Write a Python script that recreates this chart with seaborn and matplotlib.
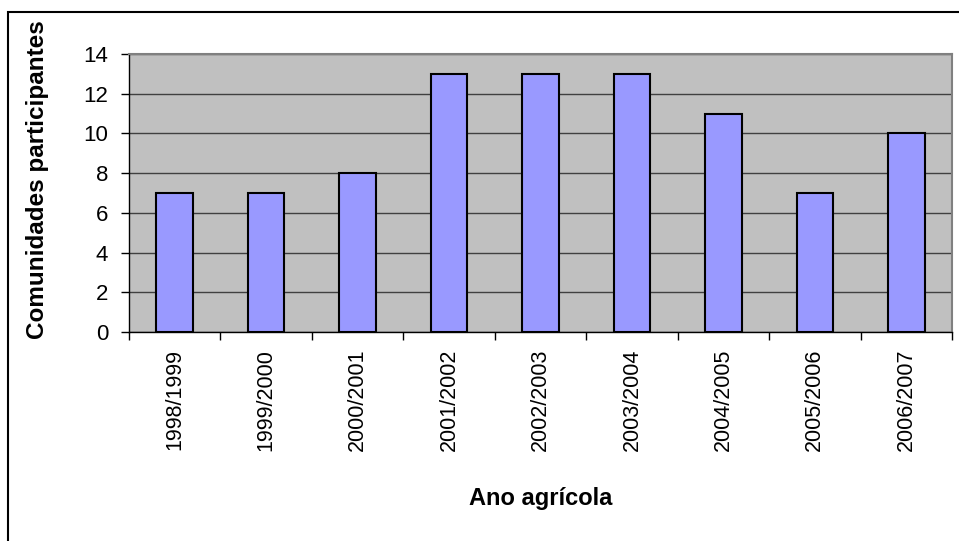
import matplotlib
matplotlib.use("Agg")
import matplotlib.pyplot as plt
import seaborn as sns
import pandas as pd
from matplotlib.patches import Rectangle

# dados
anos = ["1998/1999", "1999/2000", "2000/2001", "2001/2002", "2002/2003",
        "2003/2004", "2004/2005", "2005/2006", "2006/2007"]
comunidades = [7, 7, 8, 13, 13, 13, 11, 7, 10]

df = pd.DataFrame({"ano": anos, "n": comunidades})

sns.set_style("white")
plt.rcParams['font.family'] = ['Liberation Sans', 'DejaVu Sans']
plt.rcParams['text.color'] = 'black'
plt.rcParams['axes.labelcolor'] = 'black'
plt.rcParams['xtick.color'] = 'black'
plt.rcParams['ytick.color'] = 'black'

W, H = 959, 541
fig = plt.figure(figsize=(W / 100, H / 100), dpi=100)
ax = fig.add_axes([129 / W, 1 - 332 / H, (952 - 129) / W, (332 - 54) / H])

# moldura externa (estilo Excel)
fig.patches.append(Rectangle((8 / W, -0.05), 1.1, 1 - 12 / H + 0.05,
                             transform=fig.transFigure, fill=False,
                             edgecolor='black', linewidth=1.5, zorder=0))

ax.set_facecolor('#C0C0C0')
sns.barplot(data=df, x="ano", y="n", color='#9999FF', saturation=1,
            width=0.4, edgecolor='black', linewidth=1.5, ax=ax, zorder=3)

ax.set_ylim(0, 14)
ax.set_xlim(-0.5, len(anos) - 0.5)
ax.set_yticks(range(0, 15, 2))
ax.yaxis.grid(True, color='#404040', linewidth=1)
ax.set_axisbelow(True)

for side in ['top', 'right']:
    ax.spines[side].set_color('#808080')
    ax.spines[side].set_linewidth(1.5)
for side in ['left', 'bottom']:
    ax.spines[side].set_color('black')
    ax.spines[side].set_linewidth(1)

# ticks nas fronteiras das categorias
ax.set_xticks([i - 0.5 for i in range(len(anos) + 1)], minor=False)
ax.set_xticklabels([])
ax.set_xticks(range(len(anos)), minor=True)
ax.set_xticklabels(anos, minor=True, rotation=90, fontsize=15.5)
ax.tick_params(axis='x', which='major', direction='out', length=6, width=1, color='black', bottom=True)
ax.tick_params(axis='x', which='minor', length=0, pad=12)
ax.tick_params(axis='y', direction='out', length=6, width=1, color='black', left=True, labelsize=16, pad=9)

ax.set_xlabel("Ano agrícola", fontsize=17, fontweight='bold')
ax.set_ylabel("Comunidades participantes", fontsize=17.5, fontweight='bold')
ax.xaxis.label.set_va('center')
ax.yaxis.label.set_va('center')
ax.xaxis.set_label_coords(0.5, (332 - 499) / 278)
ax.yaxis.set_label_coords((37 - 129) / 823, (332 - 180) / 278)

fig.savefig("out.png", dpi=100)
